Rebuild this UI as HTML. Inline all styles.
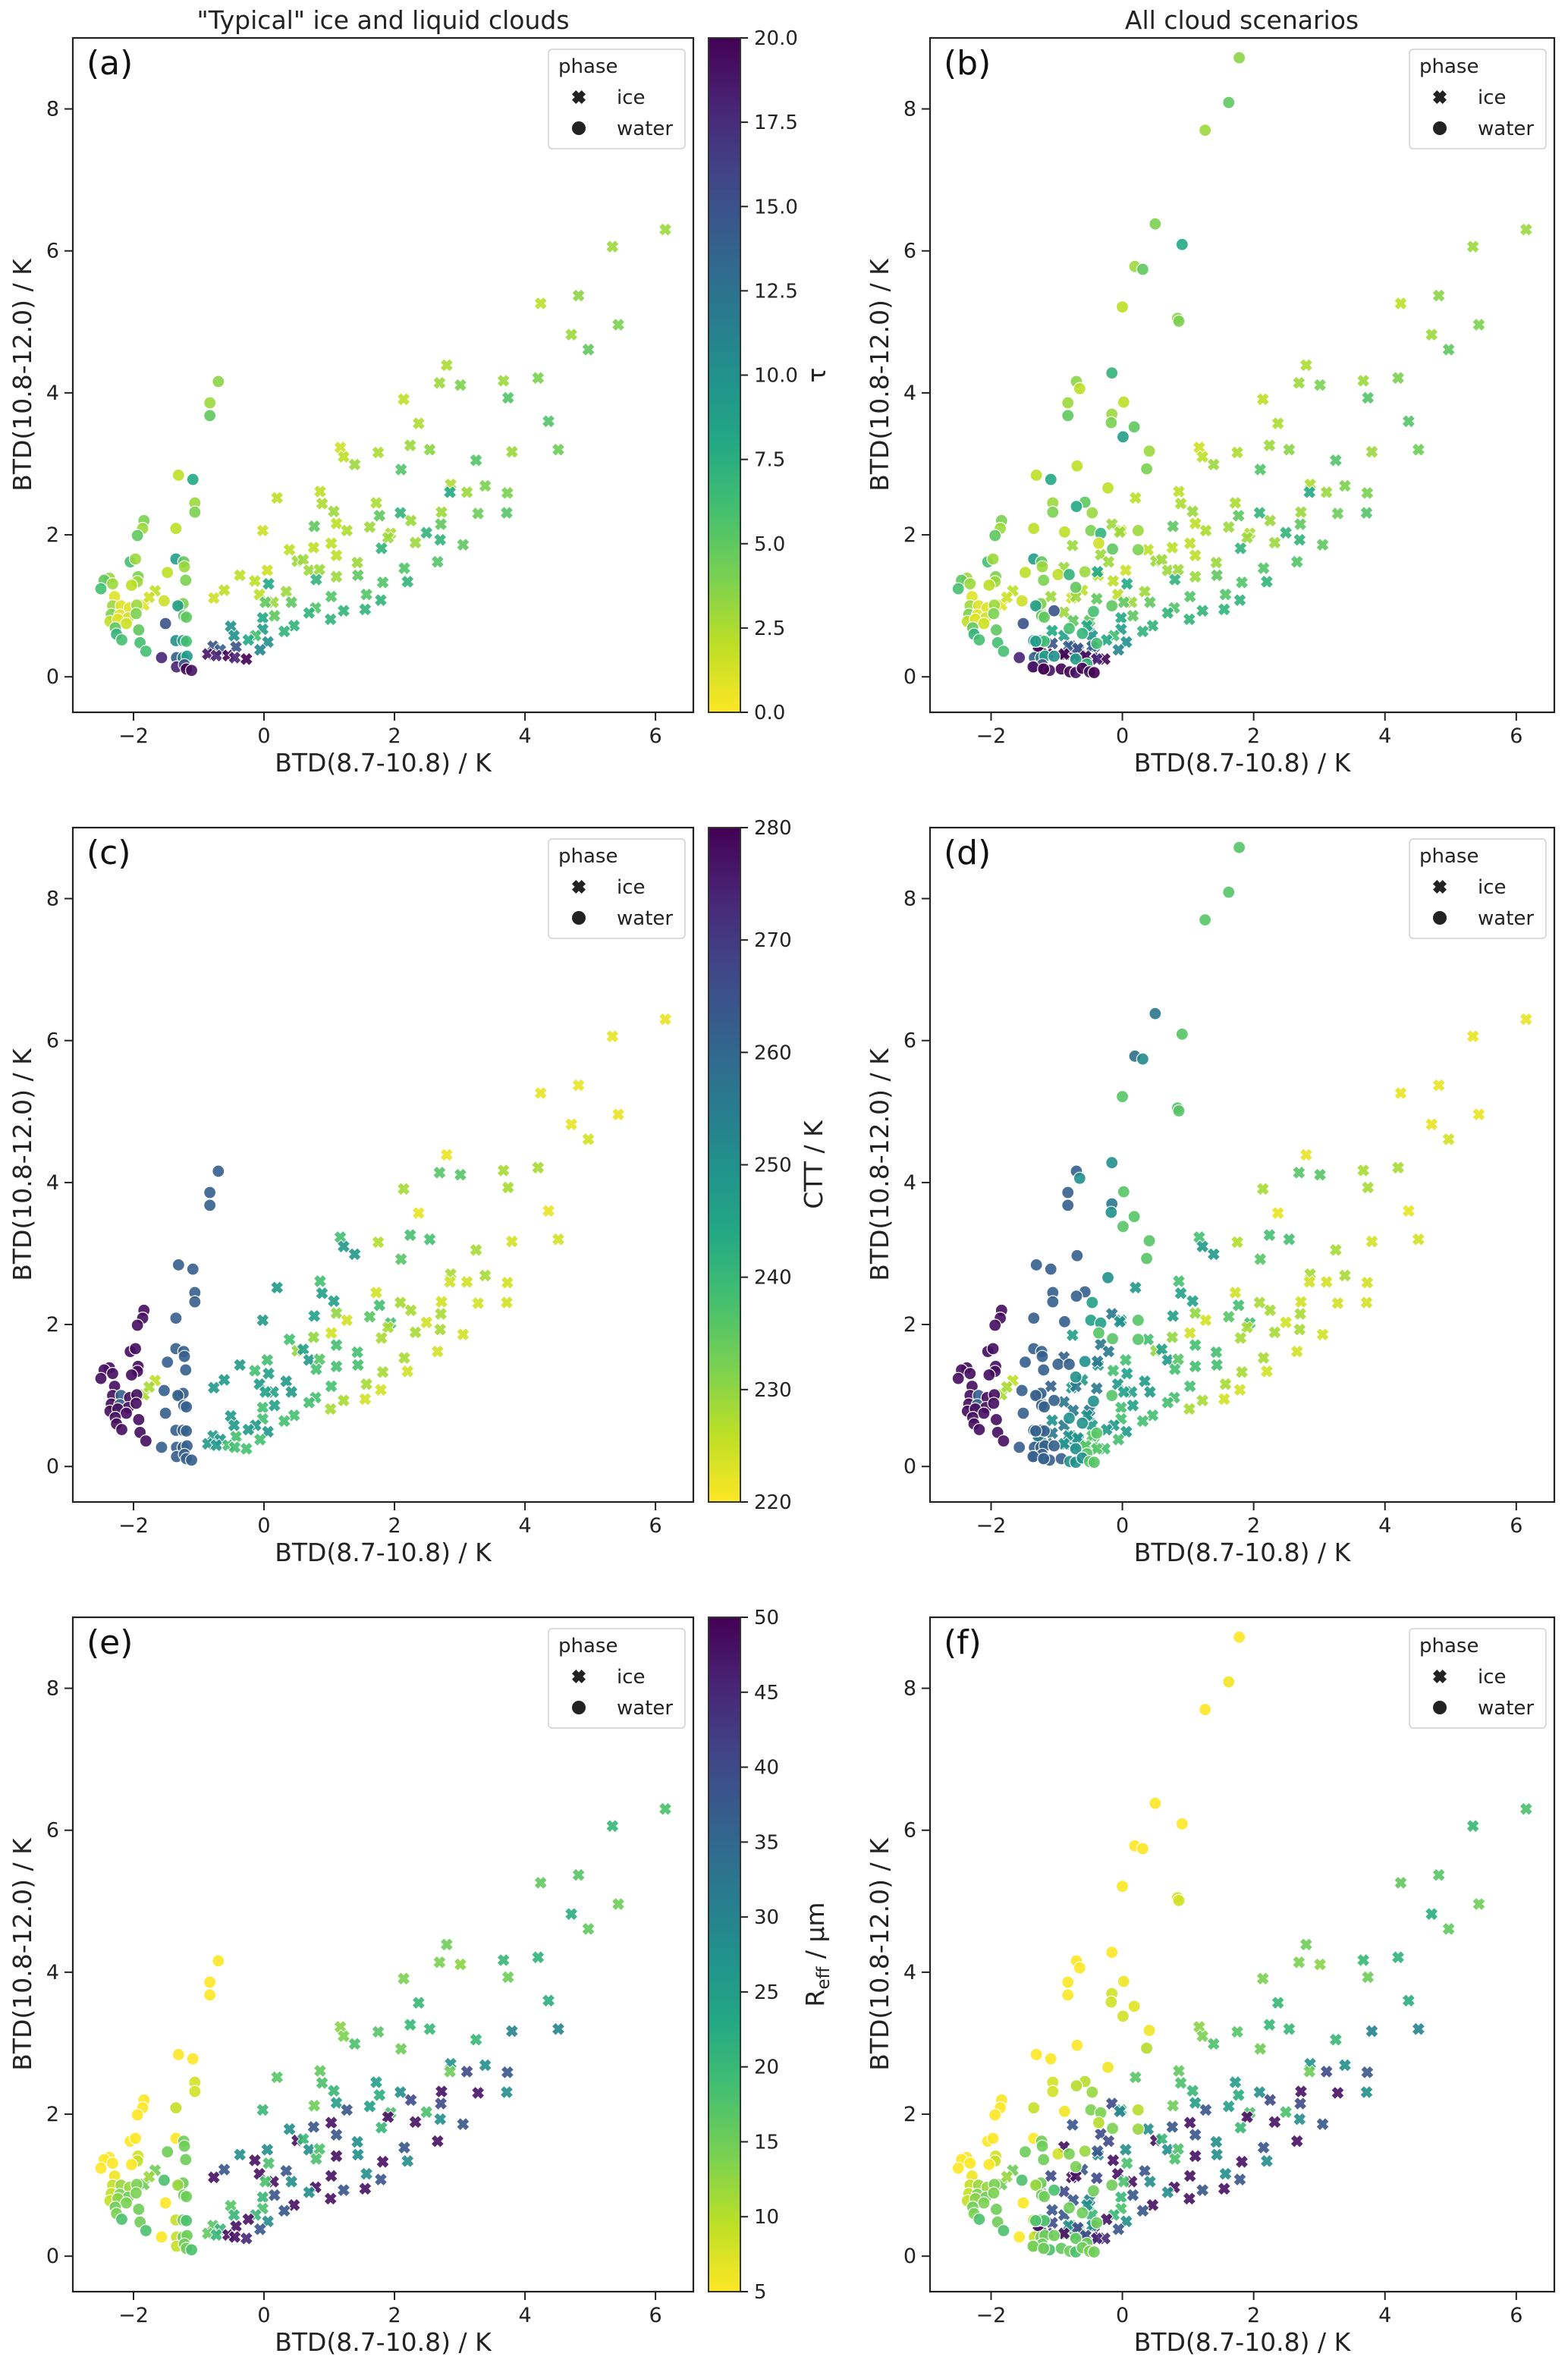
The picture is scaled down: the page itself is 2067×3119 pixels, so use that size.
<!DOCTYPE html>
<html><head><meta charset="utf-8">
<style>
html,body{margin:0;padding:0;background:#fff;}
svg{display:block;font-family:"DejaVu Sans","Liberation Sans",sans-serif;}
</style></head>
<body>
<svg id="fig" width="2067" height="3119" viewBox="0 0 2067 3119" xmlns="http://www.w3.org/2000/svg">
<defs>
<linearGradient id="vir" x1="0" y1="1" x2="0" y2="0">
<stop offset="0" stop-color="#fde725"/><stop offset="0.1" stop-color="#bddf26"/><stop offset="0.2" stop-color="#7ad151"/><stop offset="0.3" stop-color="#44bf70"/><stop offset="0.4" stop-color="#22a884"/><stop offset="0.5" stop-color="#21918c"/><stop offset="0.6" stop-color="#2a788e"/><stop offset="0.7" stop-color="#355f8d"/><stop offset="0.8" stop-color="#414487"/><stop offset="0.9" stop-color="#482475"/><stop offset="1" stop-color="#440154"/>
</linearGradient>
</defs>
<text x="505" y="38" font-size="33" text-anchor="middle" fill="#222">"Typical" ice and liquid clouds</text>
<text x="1637" y="38" font-size="33" text-anchor="middle" fill="#222">All cloud scenarios</text>
</svg>
<script>
// typical ice clouds
const tiX=[6.15,5.34,4.82,4.24,5.43,4.71,4.97,2.80,2.69,3.01, 3.67,4.20,3.74,2.14,2.37,4.36,2.24,1.17,1.22,1.39, 1.75,2.54,3.80,4.51,3.25,2.10,2.86,0.86,2.85,3.11, 3.39,3.73,0.20,0.89,1.07,1.77,2.09,2.72,3.28,3.72, 0.77,1.11,1.27,1.62,1.72,2.25,1.94,2.71,2.49,1.90, -0.02,2.70,3.05,1.03,0.76,1.80,2.32,0.39,0.51,0.60, 1.11,1.43,2.66,0.69,0.85,0.05,2.15,0.80,1.11,1.44, 1.82,2.20,-0.37,-0.14,0.07,-0.61,-0.77,-0.07,0.14,0.34, 0.42,1.03,1.57,1.79,0.02,0.79,1.22,1.55,0.69,0.16, -0.02,1.02,0.46,0.31,-0.51,-0.46,-0.02,-0.13,-0.24,0.06, -0.06,-0.78,-0.67,-0.43,-0.86,-0.73,-0.55,-0.45,-0.27,-1.84, -1.67,-1.76];
const tiY=[6.30,6.06,5.37,5.26,4.96,4.82,4.61,4.39,4.14,4.11, 4.17,4.21,3.93,3.91,3.57,3.60,3.26,3.23,3.10,2.99, 3.16,3.20,3.17,3.20,3.05,2.92,2.71,2.61,2.60,2.60, 2.69,2.59,2.52,2.44,2.33,2.27,2.31,2.32,2.30,2.31, 2.12,2.16,2.06,2.11,2.45,2.20,2.02,2.15,2.03,1.96, 2.06,1.93,1.86,1.88,1.82,1.81,1.89,1.79,1.63,1.65, 1.71,1.61,1.62,1.50,1.51,1.50,1.53,1.37,1.41,1.43, 1.33,1.34,1.43,1.35,1.31,1.22,1.11,1.16,1.05,1.20, 1.05,1.13,1.16,1.08,1.05,0.97,0.93,0.95,0.90,0.86, 0.83,0.81,0.72,0.64,0.71,0.58,0.67,0.58,0.52,0.49, 0.38,0.43,0.38,0.42,0.32,0.30,0.30,0.27,0.25,1.01, 1.21,1.12];
const tiTau=[3,3,3.5,2,4,3,5,2.5,3,4, 3,4,5.5,2,2.5,5.5,3,1.5,2,3, 2.5,3.5,3,4.5,5.5,5.5,2.5,2,8,3, 4,4,2,2.5,3,5,7,3,4.5,5.5, 5,2,2.5,3,2.5,3,2.5,5,7,3, 1.5,7,5,2,2,7,3,2,3,3, 2,3,5.5,3,3,1.5,5.5,7,3,5, 5.5,7,2,2,8,2,1.5,2,3,3, 5,5.5,5.5,7,5,5.5,7,7,7,5, 8,7,7,7,10,10,9,6,8,10, 11,15,14,15,19,18,20,18,20,1, 2,1.5];
const tiCtt=[222,222,222,222,222,222,224,222,236,236, 228,228,228,228,222,222,238,238,248,248, 227,238,224,224,228,236,228,238,224,224, 228,224,248,246,246,238,228,224,224,224, 246,230,224,236,224,228,238,228,224,228, 248,228,224,224,230,228,228,238,230,246, 238,238,224,248,236,238,228,238,238,238, 228,224,248,238,246,248,248,248,246,248, 248,238,228,224,246,238,228,224,238,246, 238,228,238,238,248,248,238,248,248,248, 238,248,248,238,248,248,238,238,238,228, 226,228];
const tiReff=[18,20,17,16,15,22,16,15,14,13, 20,21,15,14,20,22,20,13,14,18, 17,20,30,30,20,15,27,16,15,40, 28,38,17,18,20,22,28,48,48,28, 15,25,38,25,25,40,18,40,18,48, 20,28,38,48,38,20,48,28,48,20, 38,28,48,28,18,28,38,18,48,28, 48,28,28,48,18,38,48,48,48,38, 28,48,28,38,18,48,38,48,28,38, 20,48,48,38,17,20,18,20,48,28, 38,17,20,48,16,20,48,48,45,15, 15,12];
// typical water clouds
const twX=[-0.70,-0.83,-0.83,-1.31,-1.09,-1.06,-1.06,-1.35,-1.84,-1.86, -1.94,-1.35,-1.23,-1.22,-2.05,-1.97,-1.48,-1.20,-1.93,-1.94, -2.03,-2.37,-2.45,-2.32,-2.50,-2.29,-1.53,-1.29,-1.24,-1.32, -2.32,-2.19,-2.06,-1.95,-2.34,-2.21,-2.08,-1.96,-1.23,-1.19, -2.36,-2.24,-2.11,-2.28,-1.92,-2.26,-2.18,-1.90,-1.81,-1.51, -1.35,-1.24,-1.19,-1.57,-1.34,-1.24,-1.18,-1.34,-1.22,-1.19, -1.11];
const twY=[4.16,3.86,3.68,2.84,2.78,2.45,2.32,2.09,2.20,2.09, 1.99,1.66,1.62,1.55,1.62,1.66,1.47,1.36,1.41,1.34, 1.29,1.39,1.36,1.31,1.24,1.13,1.07,1.01,1.03,1.00, 1.00,1.00,0.97,1.01,0.88,0.87,0.83,0.89,0.86,0.84, 0.78,0.81,0.75,0.69,0.66,0.60,0.52,0.48,0.36,0.75, 0.51,0.51,0.50,0.27,0.27,0.27,0.29,0.14,0.17,0.11, 0.09];
const twTau=[3.5,3,5,2,8,3,4,2,4,3, 5,9,5,3,6,3,2,4,4,3, 2,3,5,3,6,1,1.5,3,4,9, 3,1,1,3,4,1,1.5,4,5,5, 2,1,1.5,5,5,7,6,6,6,15, 10,9,6,18,14,11,9,18,15,20, 19];
const twCtt=[262,262,262,262,262,262,262,262,278,278, 278,262,262,262,278,278,262,262,278,278, 278,278,278,278,278,278,262,262,262,262, 278,262,278,278,278,262,278,278,262,262, 278,278,278,278,278,278,278,278,278,262, 262,262,262,262,262,262,262,262,262,262, 262];
const twReff=[5,5,5,5,5,8,8,9,5,5, 5,5,15,15,5,5,15,15,8,9, 5,5,5,5,5,6,18,13,15,12, 9,12,12,14,9,14,15,14,15,15, 9,13,14,15,15,14,18,15,18,5, 9,15,18,5,9,15,15,9,15,15, 18];
// additional water clouds (all scenarios)
const xwX=[1.78,1.62,1.26,0.50,0.91,0.19,0.31,0.00,0.84,0.86, -0.16,-0.65,0.02,-0.16,-0.17,0.18,0.01,0.41,0.37,-0.69, -0.22,-0.57,-0.46,-0.70,-0.48,-0.88,0.24,-0.33,-0.36,-0.15, 0.24,-0.57,-0.98,-0.81,-0.71,-1.04,-0.44,-0.16,-0.81,-0.61, -0.39,-1.32,-1.04,-0.71,-0.54,-1.36,-1.20,-0.93,-0.80,-0.71, -0.61,-0.50,-0.43];
const xwY=[8.72,8.09,7.70,6.38,6.09,5.78,5.74,5.21,5.05,5.01, 4.28,4.06,3.87,3.70,3.58,3.52,3.38,3.18,2.93,2.97, 2.66,2.46,2.31,2.40,2.06,2.04,2.06,2.02,1.88,1.80, 1.79,1.48,1.44,1.44,1.26,0.93,0.92,1.00,0.68,0.61, 0.47,0.50,0.29,0.25,0.18,0.14,0.11,0.11,0.07,0.06, 0.12,0.07,0.06];
const xwTau=[3.5,5,3,4,8,3,5,2,3.5,4, 7,2,2,3,4,5,9,3,4,2, 2,5,3,8,4,2,3,7,1.5,5, 4,3,2,7,5,15,6,5,6,7, 6,9,10,9,7,19,20,20,20,19, 20,19,20];
const xwCtt=[236,236,236,256,236,258,252,236,236,236, 250,250,236,256,250,236,236,236,236,262, 250,262,246,262,246,262,236,246,236,236, 236,250,262,262,250,262,250,236,250,250, 236,262,262,250,236,262,262,262,250,250, 250,236,236];
const xwReff=[5,6,5,5,5,5,5,5,8,8, 5,5,6,8,8,7,8,6,10,5, 6,10,12,10,14,6,10,14,10,14, 12,12,8,14,14,18,15,15,15,15, 15,18,15,16,15,15,15,16,15,18, 15,14,15];
// additional ice clouds (all scenarios)
const xiX=[-0.76,-0.89,-0.38,-0.33,-0.21,-0.16,-0.04,-1.09,-0.71,-0.39, -1.25,-0.89,-0.75,-0.50,-1.07,-0.89,-0.54,-1.25,-1.07,-0.82, -0.68,-0.46,-1.28,-1.14,-0.89,-0.56,-0.39];
const xiY=[1.85,1.54,1.48,1.72,1.62,2.15,2.04,1.13,1.13,1.10, 0.97,0.91,0.79,0.79,0.65,0.58,0.72,0.43,0.47,0.43, 0.40,0.43,0.36,0.32,0.32,0.29,0.25];
const xiTau=[3,3,8,3,3,3,3,3,3,5, 3,3,5,5,8,9,8,16,15,14, 15,14,20,19,20,19,18];
const xiCtt=[246,262,256,256,256,256,250,262,256,256, 256,256,256,256,250,256,250,256,256,250, 250,236,256,256,250,236,236];
const xiReff=[38,48,38,40,40,40,30,40,48,40, 40,40,38,30,38,38,28,48,40,28, 40,28,48,40,48,38,45];

const xTicks=[-2,0,2,4,6];
const yTicks=[0,2,4,6,8];
const tauTicks=[0,2.5,5,7.5,10,12.5,15,17.5,20];
const cttTicks=[220,230,240,250,260,270,280];
const reffTicks=[5,10,15,20,25,30,35,40,45,50];

const NS="http://www.w3.org/2000/svg";
const svg=document.getElementById('fig');
const XMIN=-2.93,XMAX=6.58,YMIN=-0.5,YMAX=9.0;
const VIR=["#440154","#482475","#414487","#355f8d","#2a788e","#21918c","#22a884","#44bf70","#7ad151","#bddf26","#fde725"];
function hex(c){return [parseInt(c.substr(1,2),16),parseInt(c.substr(3,2),16),parseInt(c.substr(5,2),16)];}
function viridis(t){t=Math.max(0,Math.min(1,t));const f=t*10,i=Math.min(9,Math.floor(f)),r=f-i;const a=hex(VIR[i]),b=hex(VIR[i+1]);return 'rgb('+a.map((v,k)=>Math.round(v+(b[k]-v)*r)).join(',')+')';}
function colorFor(v,lo,hi){return viridis(1-(v-lo)/(hi-lo));}
function el(tag,attrs,parent){const e=document.createElementNS(NS,tag);for(const k in attrs)e.setAttribute(k,attrs[k]);(parent||svg).appendChild(e);return e;}
function txt(s,attrs,parent){const e=el('text',attrs,parent);e.textContent=s;return e;}
function xPath(cx,cy,s){const w=s*0.42;const pts=[[w,s],[-w,s],[-w,w],[-s,w],[-s,-w],[-w,-w],[-w,-s],[w,-s],[w,-w],[s,-w],[s,w],[w,w]];const c=Math.SQRT1_2;return 'M'+pts.map(p=>[(cx+(p[0]-p[1])*c).toFixed(1),(cy+(p[0]+p[1])*c).toFixed(1)].join(' ')).join('L')+'Z';}

const ROWS=[50,1091,2132],H=889;
const COLS=[{L:96,W:818},{L:1226,W:823}];
const vars=[
 {key:'tau',lo:0,hi:20,ticks:tauTicks,fmt:v=>v.toFixed(1),label:'τ',lx:1088},
 {key:'ctt',lo:220,hi:280,ticks:cttTicks,fmt:v=>String(v),label:'CTT / K',lx:1084},
 {key:'reff',lo:5,hi:50,ticks:reffTicks,fmt:v=>String(v),label:'Reff',lx:1086}
];
const letters=[['(a)','(b)'],['(c)','(d)'],['(e)','(f)']];
function pick(key,tau,ctt,reff){return key==='tau'?tau:key==='ctt'?ctt:reff;}

for(let r=0;r<3;r++){
 const T=ROWS[r],V=vars[r];
 for(let c=0;c<2;c++){
  const {L,W}=COLS[c];
  const sx=x=>L+(x-XMIN)/(XMAX-XMIN)*W;
  const sy=y=>T+(YMAX-y)/(YMAX-YMIN)*H;
  const g=el('g',{});
  
  
  xTicks.forEach(t=>{
   const tk=el('line',{x1:sx(t),x2:sx(t),y1:T+H,y2:T+H+11,stroke:'#222','stroke-width':2},g);
   
   
   const lb=txt(t<0?'\u2212'+(-t):String(t),{x:sx(t),y:T+H+40,'font-size':27,'text-anchor':'middle',fill:'#222'},g);
   
   
  });
  yTicks.forEach(t=>{
   const tk=el('line',{x1:L-11,x2:L,y1:sy(t),y2:sy(t),stroke:'#222','stroke-width':2},g);
   
   
   const lb=txt(String(t),{x:L-18,y:sy(t)+9,'font-size':27,'text-anchor':'end',fill:'#222'},g);
   
   
  });
  const xl=txt('BTD(8.7-10.8) / K',{x:L+W/2,y:T+H+78,'font-size':33,'text-anchor':'middle',fill:'#222'},g);
  
  
  const yl=txt('BTD(10.8-12.0) / K',{x:0,y:0,'font-size':33,'text-anchor':'middle',fill:'#222',transform:'translate('+(L-55)+','+(T+H/2)+') rotate(-90)'},g);
  
  
  const sets=[[tiX,tiY,tiTau,tiCtt,tiReff,'ice'],[twX,twY,twTau,twCtt,twReff,'water']];
  if(c===1){sets.push([xiX,xiY,xiTau,xiCtt,xiReff,'ice']);sets.push([xwX,xwY,xwTau,xwCtt,xwReff,'water']);}
  const order=c===1?[0,2,1,3]:[0,1];
  order.forEach(si=>{
   const [X,Y,A,B,C,ph]=sets[si];
   for(let i=0;i<X.length;i++){
    const v=pick(V.key,A[i],B[i],C[i]);
    const col=colorFor(v,V.lo,V.hi);
    let m;
    if(ph==='water'){m=el('circle',{cx:sx(X[i]),cy:sy(Y[i]),r:8,fill:col,stroke:'#fff','stroke-width':1.2,'fill-opacity':0.9},g);
     }
    else {m=el('path',{d:xPath(sx(X[i]),sy(Y[i]),8.5),fill:col,stroke:'#fff','stroke-width':1,'fill-opacity':0.9},g);
     }
    
   }
  });
  const fr=el('rect',{x:L,y:T,width:W,height:H,fill:'none',stroke:'#222','stroke-width':2.2},g);
  
  
  const pl=txt(letters[r][c],{x:L+18,y:T+48,'font-size':44,fill:'#111'},g);
  
  
  const lx=L+W-191,ly=T+15;
  const lg=el('g',{},g);
  
  
  el('rect',{x:lx,y:ly,width:180,height:131,rx:5,fill:'#fff','fill-opacity':0.85,stroke:'#d0d0d0','stroke-width':1.5},lg);
  const lt=txt('phase',{x:lx+13,y:ly+31,'font-size':26,fill:'#222'},lg);
  
  
  const li=el('path',{d:xPath(lx+40,ly+63,9),fill:'#222'},lg);
  
  
  const lit=txt('ice',{x:lx+90,y:ly+72,'font-size':26,fill:'#222'},lg);
  
  
  const lw=el('circle',{cx:lx+40,cy:ly+104,r:9,fill:'#222'},lg);
  
  
  const lwt=txt('water',{x:lx+90,y:ly+113,'font-size':26,fill:'#222'},lg);
  
  
 }
 const cb=el('g',{});
 
 
 const CL=934,CW=42;
 el('rect',{x:CL,y:T,width:CW,height:H,fill:'url(#vir)',stroke:'#333','stroke-width':2},cb);
 V.ticks.forEach(t=>{
  const y=T+(V.hi-t)/(V.hi-V.lo)*H;
  const tk=el('line',{x1:CL+CW,x2:CL+CW+10,y1:y,y2:y,stroke:'#222','stroke-width':2},cb);
  
  
  const lb=txt(V.fmt(t),{x:CL+CW+18,y:y+9,'font-size':26,fill:'#222'},cb);
  
  
 });
 let lab;
 if(V.key==='reff'){
  lab=el('text',{x:0,y:0,'font-size':33,'text-anchor':'middle',fill:'#222',transform:'translate('+V.lx+','+(T+H/2)+') rotate(-90)'},cb);
  const t1=el('tspan',{},lab);t1.textContent='R';
  const t2=el('tspan',{'font-size':23,dy:7},lab);t2.textContent='eff';
  const t3=el('tspan',{dy:-7},lab);t3.textContent=' / μm';
 } else {
  lab=txt(V.label,{x:0,y:0,'font-size':33,'text-anchor':'middle',fill:'#222',transform:'translate('+V.lx+','+(T+H/2)+') rotate(-90)'},cb);
 }
 
 
}
</script>
</body></html>
